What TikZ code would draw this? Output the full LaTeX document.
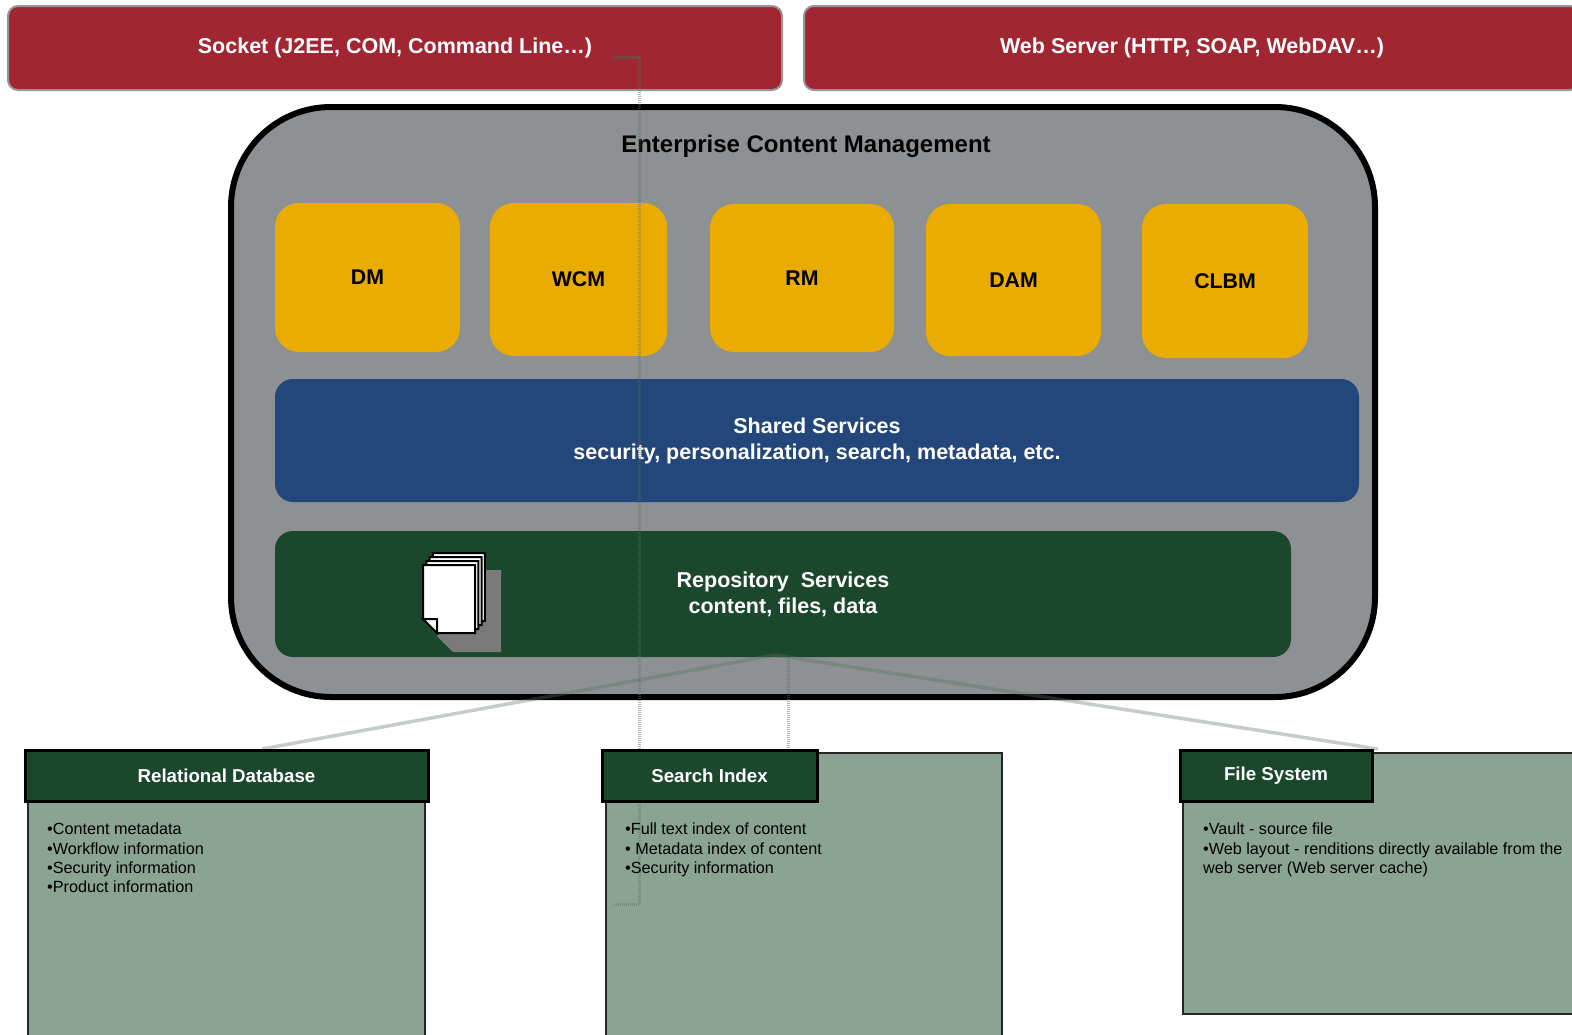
\documentclass[tikz,border=0pt]{standalone}
\usepackage{fontspec}
\setmainfont{Liberation Sans}
\usetikzlibrary{calc}
\definecolor{myred}{RGB}{160, 39, 50}
\definecolor{myredline}{RGB}{150, 150, 150}
\definecolor{mygray}{RGB}{142, 145, 147}
\definecolor{myyellow}{RGB}{234, 172, 0}
\definecolor{myblue}{RGB}{35, 71, 122}
\definecolor{mygreen}{RGB}{27, 71, 44}
\definecolor{mysage}{RGB}{139, 163, 146}
\definecolor{mylink}{RGB}{85, 115, 95}
\definecolor{myshadow}{RGB}{122, 122, 122}
\tikzset{
  redbox/.style = {draw = myredline, line width = 2, fill = myred, rounded corners = 10, inner sep = 0,
    text = white, font = \bfseries\fontsize{21.5}{25}\selectfont},
  modbox/.style = {fill = myyellow, rounded corners = 24, inner sep = 0, font = \bfseries\fontsize{21.3}{25}\selectfont},
  layerbox/.style = {rounded corners = 18, inner sep = 0, text = white, align = center,
    font = \bfseries\fontsize{21.5}{26}\selectfont},
  headbox/.style = {draw = black, line width = 3, fill = mygreen, inner sep = 0, text = white,
    font = \bfseries\fontsize{18.7}{22}\selectfont},
  bodybox/.style = {draw = black!85, line width = 2.5, fill = mysage, inner sep = 0},
  bodytext/.style = {anchor = north west, inner sep = 0, align = left, font = \fontsize{16.2}{19.3}\selectfont},
  link/.style = {draw = mylink, line width = 3.5, opacity = 0.35},
  tap/.style = {draw = mylink, line width = 3, opacity = 0.5, dash pattern = on 1 off 1}
}

\begin{document}
\begin{tikzpicture}[x = 1pt, y = -1pt]
\useasboundingbox (0,0) rectangle (1572,1034);
\clip (0,0) rectangle (1572,1034);

\node[redbox, minimum width = 774, minimum height = 84] (socket) at (395,48) {\raisebox{-2pt}{Socket (J2EE, COM, Command Line…)}};
\node[redbox, minimum width = 776, minimum height = 84] (web) at (1192,48) {\raisebox{-2pt}{Web Server (HTTP, SOAP, WebDAV…)}};

\node[draw = black, line width = 6, fill = mygray, rounded corners = 100, minimum width = 1144, minimum height = 590] (ecm) at (803,402) {};
\node[font = \bfseries\fontsize{24}{28}\selectfont, inner sep = 0] (ecmtitle) at (806,146) {Enterprise Content Management};

\node[modbox, minimum width = 185, minimum height = 149] (dm) at (367.5,277.5) {DM};
\node[modbox, minimum width = 177, minimum height = 153] (wcm) at (578.5,279.5) {WCM};
\node[modbox, minimum width = 184, minimum height = 148] (rm) at (802,278) {RM};
\node[modbox, minimum width = 175, minimum height = 152] (dam) at (1013.5,280) {DAM};
\node[modbox, minimum width = 166, minimum height = 154] (clbm) at (1225,281) {CLBM};

\node[layerbox, fill = myblue, minimum width = 1084, minimum height = 123] (shared) at (817,440.5)
  {Shared Services\\security, personalization, search, metadata, etc.};
\node[layerbox, fill = mygreen, minimum width = 1016, minimum height = 126] (repo) at (783,594)
  {Repository\ \ Services\\content, files, data};

% stack of documents
\fill[myshadow] (440,570) -- (501,570) -- (501,652) -- (453,652) -- (437,636) -- cycle;
\foreach \i in {3,2,1,0} {
  \draw[fill = white, line width = 2, shift = {(3.3*\i,-4*\i)}]
    (423,565) -- (475,565) -- (475,633) -- (437,633) -- (423,619) -- cycle;
}
\draw[fill = white, line width = 2] (423,619) -- (437,619) -- (437,633) -- cycle;

\coordinate (hub) at (775,655);
\coordinate (drop) at ($(repo.south)+(5,0)$);
\coordinate (tapstart) at (614,57);
\coordinate (tapend) at (614,904);

\node[bodybox, minimum width = 397, minimum height = 260] (rdb) at (226.5,931) {};
\node[bodybox, minimum width = 396, minimum height = 300] (si) at (804,903) {};
\node[bodybox, minimum width = 397, minimum height = 261] (fs) at (1381.5,883.5) {};

\draw[link] (hub) -- (262,749);
\draw[link] (hub) -- (1378,749);
\draw[tap] (drop) -- (drop |- 0,751);
\draw[tap] (tapstart) -| (639,904) -- (tapend);

\node[headbox, minimum width = 403, minimum height = 51] (rdbhead) at (226.5,775.5) {\raisebox{-2pt}{Relational Database}};
\node[headbox, minimum width = 215, minimum height = 51] (sihead) at (709.5,775.5) {\raisebox{-2pt}{Search Index}};
\node[headbox, minimum width = 192, minimum height = 51] (fshead) at (1276,775.5) {\raisebox{-2pt}{File System}};

\node[bodytext] (rdbtext) at (47,823) {•Content metadata\\•Workflow information\\•Security information\\•Product information};
\node[bodytext] (sitext) at (625,823) {•Full text index of content\\• Metadata index of content\\•Security information};
\node[bodytext] (fstext) at (1203,823) {•Vault - source file\\•Web layout - renditions directly available from the\\web server (Web server cache)};
\end{tikzpicture}
\end{document}
